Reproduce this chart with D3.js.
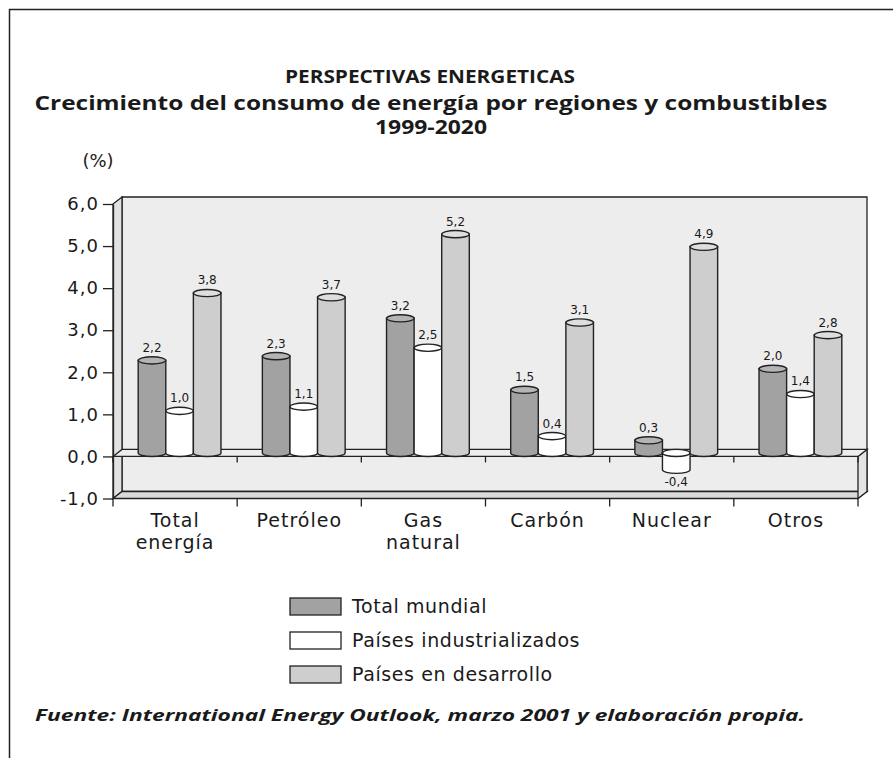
<!DOCTYPE html>
<html>
<head>
<meta charset="utf-8">
<script src="https://cdn.jsdelivr.net/npm/d3@7"></script>
<style>
  body { margin: 0; background: #fff; }
  text { font-family: 'Open Sans', 'DejaVu Sans', sans-serif; fill: #1a1a1a; }
</style>
</head>
<body>
<svg id="chart" width="893" height="758"></svg>
<script>
var categories = ['Total\nenergía', 'Petróleo', 'Gas\nnatural', 'Carbón', 'Nuclear', 'Otros']
var seriesNames = ['Total mundial', 'Países industrializados', 'Países en desarrollo']
var totalMundial = [2.2, 2.3, 3.2, 1.5, 0.3, 2.0]
var industrializados = [1.0, 1.1, 2.5, 0.4, -0.4, 1.4]
var enDesarrollo = [3.8, 3.7, 5.2, 3.1, 4.9, 2.8]
var yTicks = [-1, 0, 1, 2, 3, 4, 5, 6]

var seriesColors = ['#a2a2a2', '#ffffff', '#cecece']
var topColors = ['#b4b4b4', '#ffffff', '#dedede']
var values = [totalMundial, industrializados, enDesarrollo]

var svg = d3.select('#chart')
// decimal comma and a plain hyphen for the sign
var fmt = function(v) {
  return d3.format('.1f')(v).replace('.', ',').replace('\u2212', '-')
}

// frame round the figure
svg.append('path')
  .attr('d', 'M9.5,758 L9.5,9.5 L893,9.5')
  .attr('fill', 'none')
  .attr('stroke', '#222')
  .attr('stroke-width', 1.5)

// titles
function fitText(sel, len) {
  sel.attr('textLength', len).attr('lengthAdjust', 'spacingAndGlyphs')
}
svg.append('text').attr('x', 430).attr('y', 83).attr('text-anchor', 'middle')
  .style('font-size', '18px').style('font-weight', 'bold')
  .text('PERSPECTIVAS ENERGETICAS').call(fitText, 290)
svg.append('text').attr('x', 431).attr('y', 110).attr('text-anchor', 'middle')
  .style('font-size', '19px').style('font-weight', 'bold')
  .text('Crecimiento del consumo de energía por regiones y combustibles').call(fitText, 793)
svg.append('text').attr('x', 431).attr('y', 134).attr('text-anchor', 'middle')
  .style('font-size', '19px').style('font-weight', 'bold')
  .text('1999-2020').call(fitText, 112)

// plot geometry: front plane plus a depth offset
var left = 113, right = 858
var depthX = 9, depthY = -7

var x0 = d3.scaleBand().domain(categories).range([left, right])
var x1 = d3.scaleBand().domain(seriesNames).range([0, x0.bandwidth()]).paddingOuter(0.75)
var y = d3.scaleLinear().domain([-1, 6]).range([498.5, 204])

var yTop = y(6), yBot = y(-1), yZero = y(0)
var g = svg.append('g')

function poly(pts) {
  return 'M' + pts.map(function(p) { return p.join(',') }).join('L') + 'Z'
}

// back wall
g.append('path')
  .attr('d', poly([[left + depthX, yTop + depthY], [right + depthX, yTop + depthY],
    [right + depthX, yBot + depthY], [left + depthX, yBot + depthY]]))
  .attr('fill', '#ededed').attr('stroke', '#222').attr('stroke-width', 1.3)
// side wall
g.append('path')
  .attr('d', poly([[left, yTop], [left + depthX, yTop + depthY],
    [left + depthX, yBot + depthY], [left, yBot]]))
  .attr('fill', '#e2e2e2').attr('stroke', '#222').attr('stroke-width', 1.3)
// floor
g.append('path')
  .attr('d', poly([[left, yBot], [left + depthX, yBot + depthY],
    [right + depthX, yBot + depthY], [right, yBot]]))
  .attr('fill', '#dadada').attr('stroke', '#222').attr('stroke-width', 1.3)
// right end of the zero slab
g.append('path')
  .attr('d', poly([[right, yZero], [right + depthX, yZero + depthY],
    [right + depthX, yBot + depthY], [right, yBot]]))
  .attr('fill', '#e4e4e4').attr('stroke', '#222').attr('stroke-width', 1.3)
// zero plane
g.append('path')
  .attr('d', poly([[left, yZero], [left + depthX, yZero + depthY],
    [right + depthX, yZero + depthY], [right, yZero]]))
  .attr('fill', '#ededed').attr('stroke', '#222').attr('stroke-width', 1.3)

// boundary ticks on the zero line and below the floor
var bounds = categories.map(function(c) { return x0(c) }).concat([right])
g.selectAll('.zt').data(bounds).enter().append('line')
  .attr('x1', function(d) { return d }).attr('x2', function(d) { return d })
  .attr('y1', yZero).attr('y2', yZero + 6)
  .attr('stroke', '#222').attr('stroke-width', 1.3)
g.selectAll('.bt').data(bounds).enter().append('line')
  .attr('x1', function(d) { return d }).attr('x2', function(d) { return d })
  .attr('y1', yBot).attr('y2', yBot + 8)
  .attr('stroke', '#222').attr('stroke-width', 1.3)

// y axis
var yAxis = g.append('g')
  .attr('transform', 'translate(' + left + ',0)')
  .call(d3.axisLeft(y).tickValues(yTicks).tickFormat(fmt).tickSize(10).tickSizeOuter(0).tickPadding(4))
yAxis.select('.domain').attr('stroke', '#222').attr('stroke-width', 1.3)
yAxis.selectAll('.tick line').attr('stroke', '#222').attr('stroke-width', 1.3)
yAxis.selectAll('.tick text')
  .style('font-size', '18px').style('font-family', "'DejaVu Sans', sans-serif")
  .style('letter-spacing', '1px').attr('fill', '#1a1a1a')

svg.append('text').attr('x', 98).attr('y', 167).attr('text-anchor', 'middle')
  .style('font-size', '18px').style('font-family', "'DejaVu Sans', sans-serif")
  .text('(%)')

// category labels
var catLabels = svg.append('g').selectAll('text').data(categories).enter().append('text')
  .attr('x', function(d) { return x0(d) + x0.bandwidth() / 2 })
  .attr('y', 527)
  .attr('text-anchor', 'middle')
  .style('font-size', '19px').style('font-family', "'DejaVu Sans', sans-serif")
  .style('letter-spacing', '1px')
catLabels.each(function(d) {
  var t = d3.select(this)
  d.split('\n').forEach(function(line, i) {
    t.append('tspan').attr('x', x0(d) + x0.bandwidth() / 2).attr('dy', i ? 22 : 0).text(line)
  })
})

// cylinders, placed at mid depth
var ry = 3.6
var bars = []
categories.forEach(function(c, ci) {
  seriesNames.forEach(function(s, si) {
    bars.push({ cat: c, series: s, si: si, value: values[si][ci] })
  })
})
var barG = g.append('g').selectAll('g').data(bars).enter().append('g')
barG.each(function(d) {
  var w = x1.bandwidth()
  var rx = w / 2
  var cx = x0(d.cat) + x1(d.series) + rx + depthX / 2
  var ya = y(d.value) + depthY / 2
  var yb = y(0) + depthY / 2
  var top = Math.min(ya, yb), bot = Math.max(ya, yb)
  var el = d3.select(this)
  el.append('path')
    .attr('d', 'M' + (cx - rx) + ',' + top + 'L' + (cx - rx) + ',' + bot +
      'A' + rx + ',' + ry + ' 0 0 0 ' + (cx + rx) + ',' + bot +
      'L' + (cx + rx) + ',' + top + 'Z')
    .attr('fill', seriesColors[d.si]).attr('stroke', '#222').attr('stroke-width', 1.4)
  el.append('ellipse')
    .attr('cx', cx).attr('cy', top).attr('rx', rx).attr('ry', ry)
    .attr('fill', topColors[d.si]).attr('stroke', '#222').attr('stroke-width', 1.4)
  el.append('text')
    .attr('x', cx)
    .attr('y', d.value >= 0 ? top - ry - 5 : bot + ry + 13)
    .attr('text-anchor', 'middle')
    .style('font-size', '12px').style('font-family', "'DejaVu Sans', sans-serif")
    .text(fmt(d.value))
})

// legend
var legend = svg.append('g').selectAll('g').data(seriesNames).enter().append('g')
  .attr('transform', function(d, i) { return 'translate(290,' + (598 + i * 34) + ')' })
legend.append('rect')
  .attr('width', 51).attr('height', 17)
  .attr('fill', function(d, i) { return seriesColors[i] })
  .attr('stroke', '#222').attr('stroke-width', 1.3)
legend.append('text')
  .attr('x', 62).attr('y', 15)
  .style('font-size', '19px').style('font-family', "'DejaVu Sans', sans-serif")
  .style('letter-spacing', '0.6px')
  .text(function(d) { return d })

// source note
svg.append('text').attr('x', 35).attr('y', 721)
  .style('font-size', '16px').style('font-weight', 'bold').style('font-style', 'italic')
  .text('Fuente: International Energy Outlook, marzo 2001 y elaboración propia.')
  .call(fitText, 770)
</script>
</body>
</html>
